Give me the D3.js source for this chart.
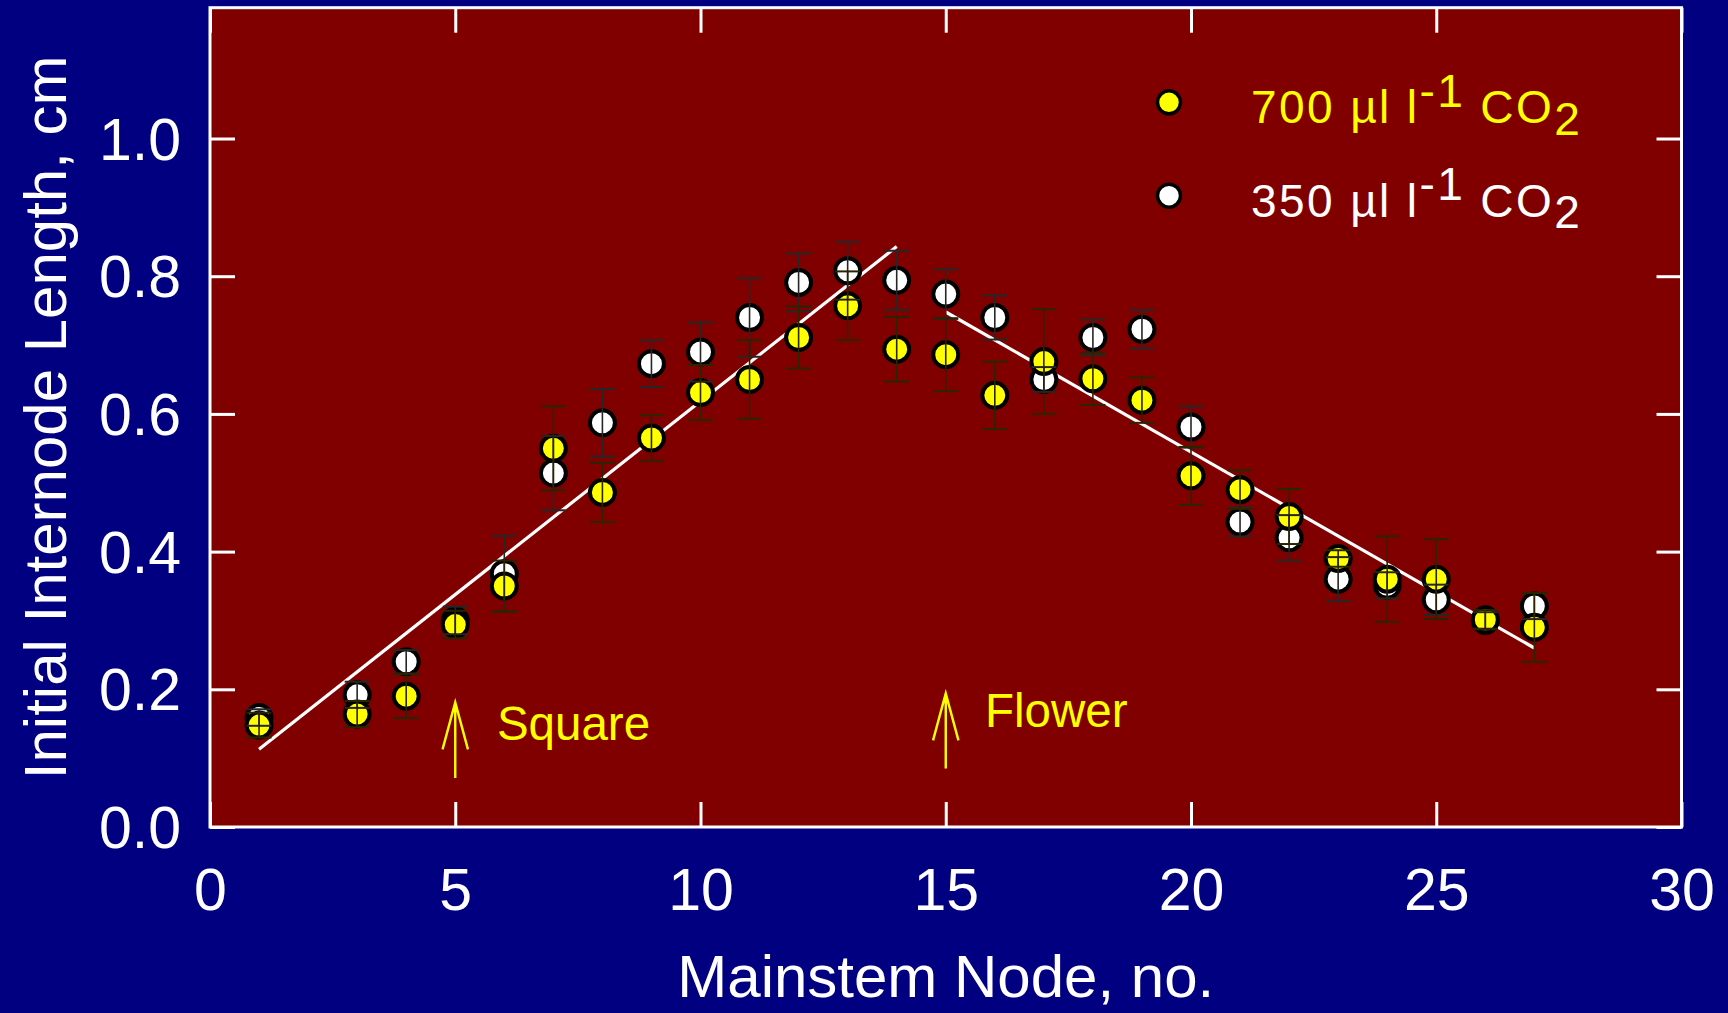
<!DOCTYPE html>
<html>
<head>
<meta charset="utf-8">
<script src="https://cdn.jsdelivr.net/npm/d3@7"></script>
<style>
  html, body { margin: 0; padding: 0; background: #000080; }
  svg { display: block; }
  text { font-family: "Liberation Sans", Arial, Helvetica, sans-serif; }
</style>
</head>
<body>
<svg id="chart" width="1728" height="1013"></svg>
<script>
// Mainstem node numbers (node 2 was not measured)
const nodes = [1, 3, 4, 5, 6, 7, 8, 9, 10, 11, 12, 13, 14, 15, 16, 17, 18, 19, 20, 21, 22, 23, 24, 25, 26, 27];

// Initial internode length (cm), elevated CO2 (700 µl l-1)
const len700 = [0.148, 0.164, 0.190, 0.294, 0.350, 0.550, 0.486, 0.565, 0.631, 0.650, 0.711, 0.757, 0.694,
                0.686, 0.627, 0.676, 0.651, 0.620, 0.510, 0.490, 0.451, 0.390, 0.360, 0.360, 0.301, 0.290];
const se700  = [0.018, 0.019, 0.032, 0.020, 0.037, 0.061, 0.043, 0.033, 0.040, 0.057, 0.045, 0.050, 0.047,
                0.053, 0.049, 0.076, 0.038, 0.033, 0.042, 0.028, 0.040, 0.012, 0.062, 0.058, 0.014, 0.050];

// Initial internode length (cm), ambient CO2 (350 µl l-1)
const len350 = [0.159, 0.192, 0.240, 0.300, 0.368, 0.514, 0.587, 0.673, 0.690, 0.740, 0.791, 0.808, 0.794,
                0.774, 0.740, 0.650, 0.711, 0.723, 0.581, 0.443, 0.420, 0.360, 0.351, 0.330, 0.300, 0.321];
const se350  = [0.012, 0.019, 0.017, 0.020, 0.055, 0.054, 0.049, 0.034, 0.043, 0.057, 0.042, 0.042, 0.043,
                0.036, 0.032, 0.018, 0.026, 0.028, 0.030, 0.021, 0.033, 0.032, 0.019, 0.022, 0.012, 0.019];

// Fitted linear segments: rising phase and declining phase
const riseFit = [[1, 0.113], [14, 0.843]];
const fallFit = [[15, 0.748], [27, 0.260]];

// Developmental markers
const events = [
  { label: "Square", node: 5,  y0: 0.071, y1: 0.181, tx: 5.85,  ty: 0.126 },
  { label: "Flower", node: 15, y0: 0.085, y1: 0.194, tx: 15.8,  ty: 0.145 }
];

const xTicks = [0, 5, 10, 15, 20, 25, 30];
const yTicks = [0.0, 0.2, 0.4, 0.6, 0.8, 1.0];

const series = [
  { name: "350", fill: "#ffffff", bar: "#262626", values: len350, se: se350 },
  { name: "700", fill: "#ffff00", bar: "#2a2400", values: len700, se: se700 }
];

const svg = d3.select("#chart");
const W = 1728, H = 1013;
const plot = { left: 210, right: 1681.5, top: 7.7, bottom: 827 };

const x = d3.scaleLinear().domain([0, 30]).range([plot.left, plot.right]);
const y = d3.scaleLinear().domain([0, 1.19]).range([plot.bottom, plot.top]);

svg.append("rect").attr("width", W).attr("height", H).attr("fill", "#000080");
svg.append("rect")
  .attr("x", plot.left).attr("y", plot.top)
  .attr("width", plot.right - plot.left).attr("height", plot.bottom - plot.top)
  .attr("fill", "#800000");

// Axes with inward ticks on all four sides
const tickLen = 25;
const axisStyle = g => {
  g.selectAll(".domain").remove();
  g.selectAll(".tick line").attr("stroke", "#ffffff").attr("stroke-width", 3);
};
svg.append("g").attr("transform", `translate(0,${plot.bottom})`)
  .call(d3.axisBottom(x).tickValues(xTicks).tickSize(-tickLen).tickFormat(d3.format("d")))
  .call(axisStyle)
  .call(g => g.selectAll(".tick text").attr("fill", "#ffffff").attr("font-size", 59).attr("dy", "0.71em").attr("y", 41));
svg.append("g").attr("transform", `translate(0,${plot.top})`)
  .call(d3.axisTop(x).tickValues(xTicks).tickSize(-tickLen).tickFormat(""))
  .call(axisStyle);
svg.append("g").attr("transform", `translate(${plot.left},0)`)
  .call(d3.axisLeft(y).tickValues(yTicks).tickSize(-tickLen).tickFormat(d3.format(".1f")).tickPadding(29))
  .call(axisStyle)
  .call(g => g.selectAll(".tick text").attr("fill", "#ffffff").attr("font-size", 59).attr("dy", "0.35em"));
svg.append("g").attr("transform", `translate(${plot.right},0)`)
  .call(d3.axisRight(y).tickValues(yTicks).tickSize(-tickLen).tickFormat(""))
  .call(axisStyle);

// Frame
svg.append("rect")
  .attr("x", plot.left).attr("y", plot.top)
  .attr("width", plot.right - plot.left).attr("height", plot.bottom - plot.top)
  .attr("fill", "none").attr("stroke", "#ffffff").attr("stroke-width", 3);

// Axis titles
svg.append("text")
  .attr("x", (plot.left + plot.right) / 2).attr("y", 997)
  .attr("text-anchor", "middle").attr("fill", "#ffffff").attr("font-size", 60)
  .text("Mainstem Node, no.");
svg.append("text")
  .attr("transform", `translate(66,${(plot.top + plot.bottom) / 2}) rotate(-90)`)
  .attr("text-anchor", "middle").attr("fill", "#ffffff").attr("font-size", 60)
  .text("Initial Internode Length, cm");

// Fitted lines
const line = d3.line().x(d => x(d[0])).y(d => y(d[1]));
[riseFit, fallFit].forEach(seg => {
  svg.append("path").attr("d", line(seg))
    .attr("fill", "none").attr("stroke", "#ffffff").attr("stroke-width", 3.2);
});

// Markers, ambient first so elevated sits on top
const r = 12.5, cap = 12.5;
series.forEach(s => {
  svg.append("g").selectAll("circle")
    .data(nodes.map((n, i) => ({ n, v: s.values[i] })))
    .join("circle")
    .attr("cx", d => x(d.n)).attr("cy", d => y(d.v)).attr("r", r)
    .attr("fill", s.fill).attr("stroke", "#000000").attr("stroke-width", 4);
});

// Error bars (± SE) drawn over the markers
series.forEach(s => {
  const g = svg.append("g").attr("stroke", s.bar).attr("stroke-width", 2).attr("fill", "none");
  nodes.forEach((n, i) => {
    const cx = x(n), lo = y(s.values[i] - s.se[i]), hi = y(s.values[i] + s.se[i]);
    g.append("line").attr("x1", cx).attr("x2", cx).attr("y1", lo).attr("y2", hi).attr("stroke-width", 1.6);
    g.append("line").attr("x1", cx - cap).attr("x2", cx + cap).attr("y1", lo).attr("y2", lo);
    g.append("line").attr("x1", cx - cap).attr("x2", cx + cap).attr("y1", hi).attr("y2", hi);
  });
});

// Developmental stage arrows and labels
events.forEach(e => {
  const ax = x(e.node), top = y(e.y1), bot = y(e.y0);
  svg.append("path")
    .attr("d", `M${ax},${bot}L${ax},${top}M${ax - 12.7},${top + 47}L${ax},${top}L${ax + 12.7},${top + 47}`)
    .attr("fill", "none").attr("stroke", "#ffff00").attr("stroke-width", 2.4);
  svg.append("text")
    .attr("x", x(e.tx)).attr("y", y(e.ty))
    .attr("fill", "#ffff00").attr("font-size", 47.5)
    .text(e.label);
});

// Legend
const legend = [
  { conc: "700", fill: "#ffff00", my: 102.3, ty: 123.3 },
  { conc: "350", fill: "#ffffff", my: 195.7, ty: 216.7 }
];
legend.forEach(l => {
  svg.append("circle").attr("cx", 1169).attr("cy", l.my).attr("r", 11.5)
    .attr("fill", l.fill).attr("stroke", "#000000").attr("stroke-width", 3.5);
  const t = svg.append("text").attr("x", 1251).attr("y", l.ty)
    .attr("fill", l.fill).attr("font-size", 46).attr("letter-spacing", 2.4);
  t.append("tspan").text(`${l.conc} µl l`);
  t.append("tspan").attr("dy", -16.7).text("-1");
  t.append("tspan").attr("dy", 16.7).text(" CO");
  t.append("tspan").attr("dy", 11.7).text("2");
});
</script>
</body>
</html>
